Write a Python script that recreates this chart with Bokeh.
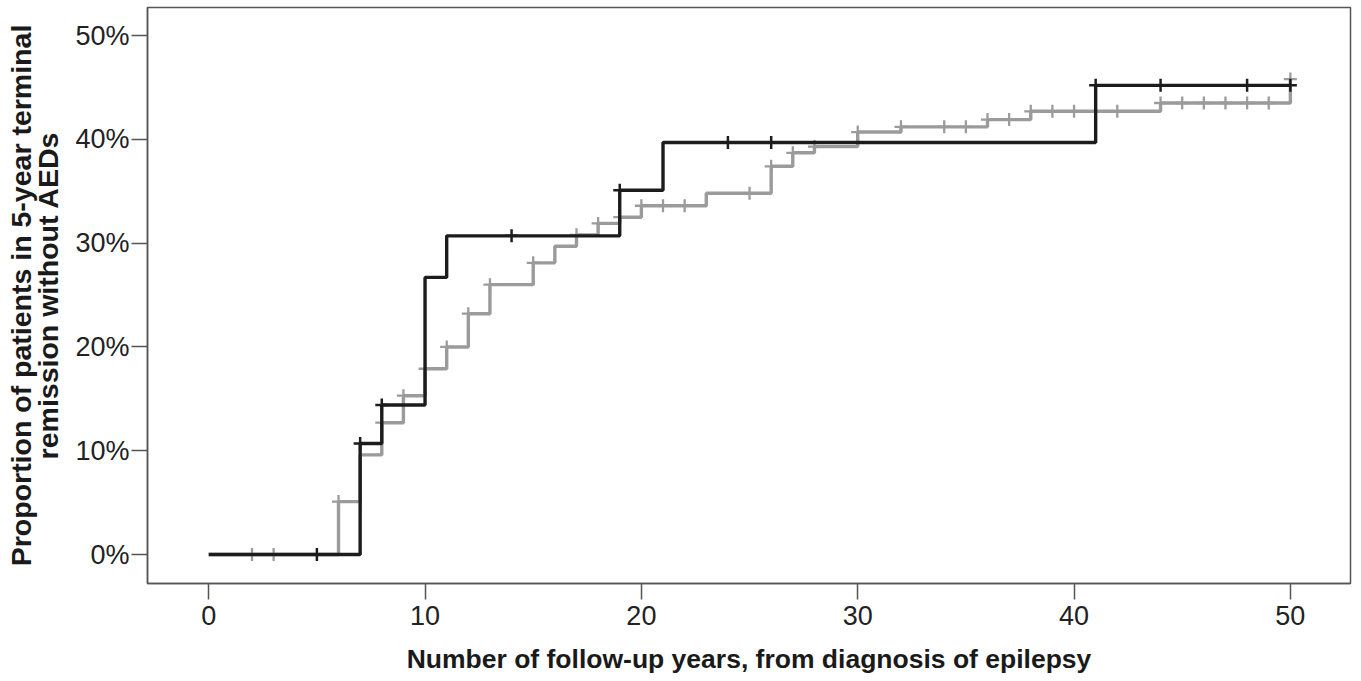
import numpy as np
from bokeh.plotting import figure
from bokeh.models import Range1d, FixedTicker, PrintfTickFormatter
from bokeh.embed import file_html
from bokeh.resources import INLINE

# ---- data ----
# Black group: step times (years) and cumulative proportion (%)
black_times = [0, 7, 8, 10, 11, 19, 21, 41, 50]
black_surv = [0, 10.7, 14.4, 26.7, 30.7, 35.1, 39.7, 45.2, 45.2]
black_censor_times = [5, 7, 8, 14, 19, 24, 26, 41, 44, 48, 50]

# Grey group
grey_times = [0, 6, 7, 8, 9, 10, 11, 12, 13, 15, 16, 17, 18, 19, 20, 23, 26, 27,
              28, 30, 32, 36, 38, 44, 50]
grey_surv = [0, 5.1, 9.6, 12.7, 15.3, 17.9, 20.0, 23.2, 26.0, 28.1, 29.7, 30.8,
             31.9, 32.5, 33.6, 34.8, 37.4, 38.7, 39.3, 40.7, 41.2, 41.9, 42.7,
             43.5, 45.8]
grey_censor_times = [2, 3, 6, 8, 9, 10, 11, 12, 13, 15, 17, 18, 19, 20, 21, 22, 25,
                     26, 27, 28, 30, 32, 34, 35, 36, 37, 38, 39, 40, 42, 44, 45,
                     46, 47, 48, 49, 50]

x_ticks = [0, 10, 20, 30, 40, 50]
y_ticks = [0, 10, 20, 30, 40, 50]

x_label = "Number of follow-up years, from diagnosis of epilepsy"
y_label = "Proportion of patients in 5-year terminal\nremission without AEDs"


def level_at(times, surv, ts):
    idx = np.searchsorted(np.array(times), np.array(ts), side="right") - 1
    return [surv[i] for i in idx]


BLACK = "#1c1c1c"
GREY = "#9b9b9b"
FRAME = "#555555"
FONT = "Liberation Sans"

p = figure(width=1358, height=678,
           x_range=Range1d(-2.83, 52.78), y_range=Range1d(-2.79, 52.7),
           output_backend="svg", toolbar_location=None,
           min_border_left=147, min_border_right=8,
           min_border_top=7, min_border_bottom=95)

p.background_fill_color = "white"
p.border_fill_color = "white"
p.outline_line_color = FRAME
p.outline_line_width = 1.5
p.xgrid.visible = False
p.ygrid.visible = False

# grey curve
p.step(grey_times, grey_surv, mode="after", line_color=GREY, line_width=3.4)
p.scatter(grey_censor_times, level_at(grey_times, grey_surv, grey_censor_times),
          marker="cross", size=13, line_color=GREY, line_width=2.3)

# black curve
p.step(black_times, black_surv, mode="after", line_color=BLACK, line_width=3.4)
p.scatter(black_censor_times, level_at(black_times, black_surv, black_censor_times),
          marker="cross", size=13, line_color=BLACK, line_width=2.5)

for ax in (p.xaxis[0], p.yaxis[0]):
    ax.axis_line_color = FRAME
    ax.axis_line_width = 1.5
    ax.major_tick_line_color = FRAME
    ax.major_tick_line_width = 1.5
    ax.major_tick_out = 16
    ax.major_tick_in = 0
    ax.minor_tick_line_color = None
    ax.major_label_text_font = FONT
    ax.major_label_text_font_size = "27px"
    ax.major_label_text_color = "#222222"
    ax.axis_label_text_font = FONT
    ax.axis_label_text_font_style = "bold"
    ax.axis_label_text_color = "#1a1a1a"

p.xaxis.ticker = FixedTicker(ticks=x_ticks)
p.yaxis.ticker = FixedTicker(ticks=y_ticks)
p.yaxis.formatter = PrintfTickFormatter(format="%d%%")
p.xaxis.axis_label = x_label
p.yaxis.axis_label = y_label
p.xaxis.axis_label_text_font_size = "26.5px"
p.yaxis.axis_label_text_font_size = "28.5px"
p.yaxis.axis_label_text_line_height = 0.85
p.xaxis.major_label_standoff = 6
p.yaxis.major_label_standoff = 2
p.xaxis.axis_label_standoff = 16
p.yaxis.axis_label_standoff = 8

open("out.html", "w").write(file_html(p, INLINE))
